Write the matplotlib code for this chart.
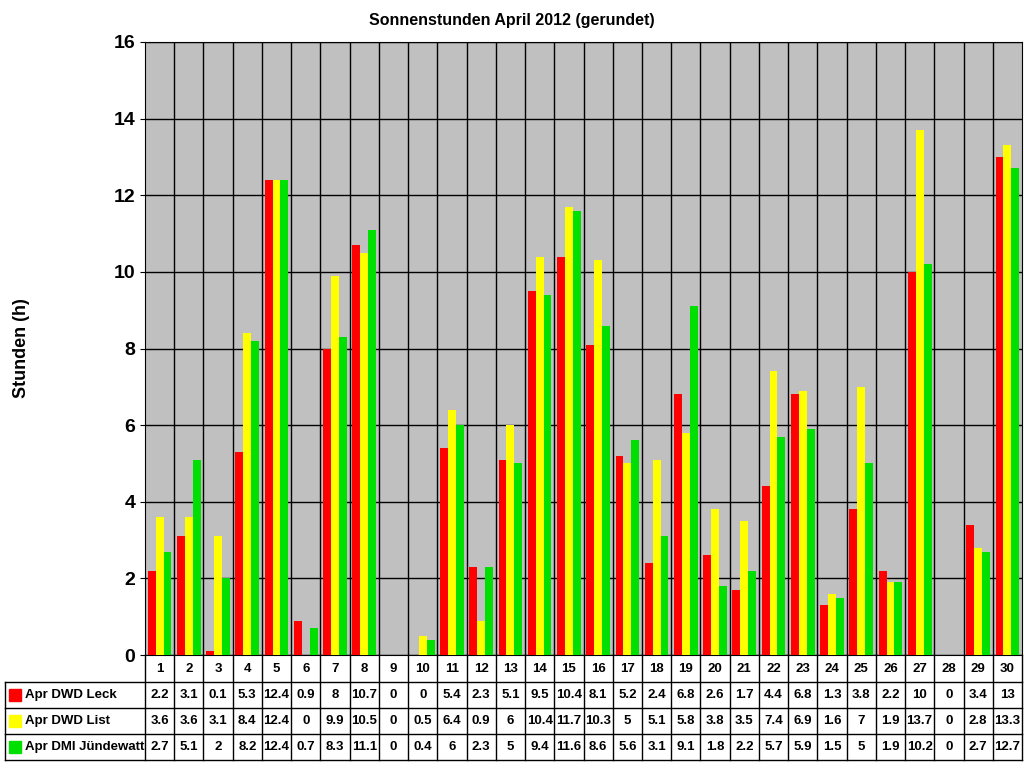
import matplotlib
matplotlib.use("Agg")
import matplotlib.pyplot as plt
import numpy as np
from matplotlib.transforms import blended_transform_factory
from matplotlib.patches import Rectangle

plt.rcParams['font.family'] = ['Liberation Sans', 'DejaVu Sans']

days = [str(d) for d in range(1, 31)]
leck = [2.2,3.1,0.1,5.3,12.4,0.9,8,10.7,0,0,5.4,2.3,5.1,9.5,10.4,8.1,5.2,2.4,6.8,2.6,1.7,4.4,6.8,1.3,3.8,2.2,10,0,3.4,13]
lst = [3.6,3.6,3.1,8.4,12.4,0,9.9,10.5,0,0.5,6.4,0.9,6,10.4,11.7,10.3,5,5.1,5.8,3.8,3.5,7.4,6.9,1.6,7,1.9,13.7,0,2.8,13.3]
dmi = [2.7,5.1,2,8.2,12.4,0.7,8.3,11.1,0,0.4,6,2.3,5,9.4,11.6,8.6,5.6,3.1,9.1,1.8,2.2,5.7,5.9,1.5,5,1.9,10.2,0,2.7,12.7]
names = ["Apr DWD Leck", "Apr DWD List", "Apr DMI Jündewatt"]
colors = ["#FF0000", "#FFFF00", "#00E000"]
series = [leck, lst, dmi]

W, H = 1024, 768
fig = plt.figure(figsize=(W/100, H/100), dpi=100)
ax = fig.add_axes([145/W, 1-655/H, 877/W, 613/H])
ax.set_facecolor("#C0C0C0")
x = np.arange(1, 31)
bw = 0.27
for k, (s, c) in enumerate(zip(series, colors)):
    ax.bar(x + (k-1)*bw, s, width=bw, color=c, zorder=3)
ax.set_xlim(0.5, 30.5)
ax.set_ylim(0, 16)
ax.set_yticks(range(0, 17, 2))
ax.set_xticks([])
for t in ax.get_yticklabels():
    t.set_fontweight("bold"); t.set_fontsize(14)
ax.yaxis.grid(True, color="black", lw=1, zorder=1)
for xi in np.arange(1.5, 30.5, 1):
    ax.axvline(xi, color="black", lw=1, zorder=1)
for sp in ax.spines.values():
    sp.set_color("black")
fig.text(22/W, 1-348/H, "Stunden (h)", rotation=90, ha="center", va="center",
         fontsize=13, fontweight="bold")
fig.text(0.5, 1-20/H, "Sonnenstunden April 2012 (gerundet)", ha="center", va="center",
         fontsize=11.5, fontweight="bold")

tr = blended_transform_factory(ax.transData, fig.transFigure)
fy = lambda p: 1 - p/H
rows_px = [655, 682, 708, 734, 760]
for i, d in enumerate(days):
    ax.text(x[i], fy((655+682)/2), d, transform=tr, ha="center", va="center",
            fontsize=9.5, fontweight="bold", clip_on=False)
for k, s in enumerate(series):
    yc = fy((rows_px[k+1]+rows_px[k+2])/2)
    for i, v in enumerate(s):
        ax.text(x[i], yc, f"{v:g}", transform=tr, ha="center", va="center",
                fontsize=9.5, fontweight="bold", clip_on=False)
    fig.patches.append(Rectangle((9/W, yc-6/H), 12/W, 12/H, color=colors[k],
                                 transform=fig.transFigure))
    fig.text(25/W, yc, names[k], ha="left", va="center", fontsize=9.5, fontweight="bold")

def hline(y, x0):
    fig.add_artist(plt.Line2D([x0/W, 1022/W], [fy(y), fy(y)], color="black", lw=1))
def vline(xp, y0, y1):
    fig.add_artist(plt.Line2D([xp/W, xp/W], [fy(y0), fy(y1)], color="black", lw=1))
for yy in (682, 708, 734, 760):
    hline(yy, 5)
vline(5, 682, 760)
colw = 877/30
for j in range(31):
    vline(145 + j*colw, 655, 760)
fig.savefig("out.png", dpi=100)
